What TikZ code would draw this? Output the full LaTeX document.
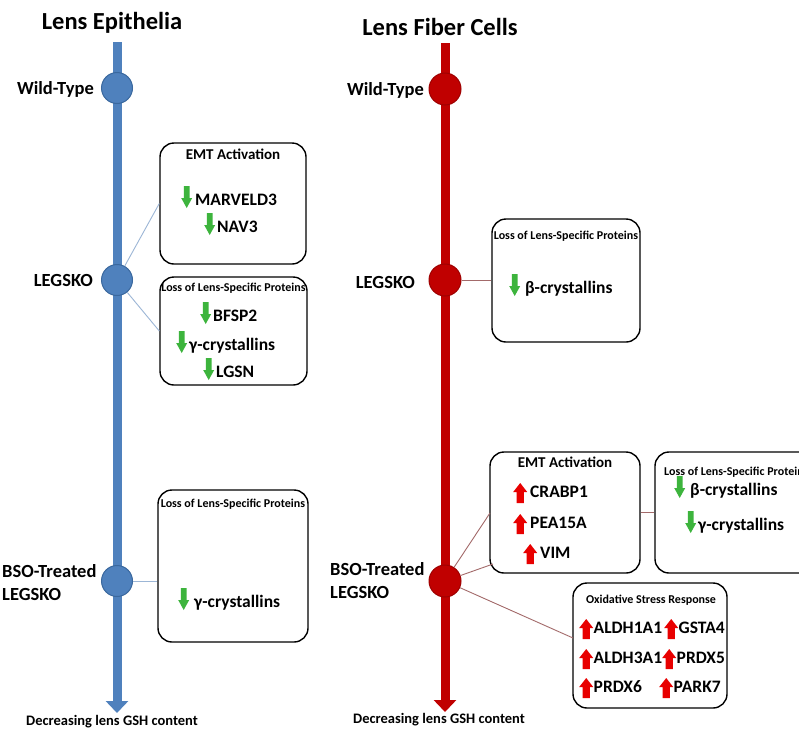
\documentclass[tikz,border=0pt]{standalone}
\usepackage{fontspec}
\setmainfont{Carlito}
\usetikzlibrary{arrows.meta,calc}
\definecolor{eblue}{HTML}{4F81BD}
\definecolor{eblueD}{HTML}{3A689E}
\definecolor{fred}{HTML}{C00000}
\definecolor{fredD}{HTML}{9E0000}
\definecolor{agreen}{HTML}{3DB43D}
\definecolor{ared}{HTML}{E80000}
\definecolor{lnblue}{HTML}{9CB6D6}
\definecolor{lnred}{HTML}{A36A6A}
\newcommand\dnarr{\tikz[baseline={(0,0)},x=1pt,y=1pt]{\fill[agreen] (-2.8,19)--(2.8,19)--(2.8,7)--(5.5,7)--(0,-3)--(-5.5,7)--(-2.8,7)--cycle;}}
\newcommand\uparr{\tikz[baseline={(0,0)},x=1pt,y=1pt]{\fill[ared] (-3.6,-6)--(3.6,-6)--(3.6,5)--(7,5)--(0,14)--(-7,5)--(-3.6,5)--cycle;}}
\begin{document}
\begin{tikzpicture}[x=1pt,y=-1pt,
  title/.style={font=\bfseries\fontsize{24.5}{28}\selectfont, inner sep=0pt},
  lab/.style={font=\bfseries\fontsize{18.5}{23}\selectfont, inner sep=0pt},
  gene/.style={font=\bfseries\fontsize{17.5}{20}\selectfont, inner sep=0pt, anchor=base west},
  hdr/.style={font=\bfseries\fontsize{15}{17}\selectfont, inner sep=0pt, anchor=base},
  shdr/.style={font=\bfseries\fontsize{12}{14}\selectfont, inner sep=0pt, anchor=base},
  note/.style={font=\bfseries\fontsize{14.5}{16}\selectfont, inner sep=0pt, anchor=base},
  box/.style={draw=black, line width=1.4pt, rounded corners=14pt, inner sep=0pt},
  bcirc/.style={circle, fill=eblue, draw=eblueD, line width=1pt, minimum size=31pt, inner sep=0pt},
  rcirc/.style={circle, fill=fred, draw=fredD, line width=1pt, minimum size=32pt, inner sep=0pt},
  axisB/.style={eblue, line width=9pt, -{Triangle[width=22pt,length=12pt]}},
  axisR/.style={fred, line width=9pt, -{Triangle[width=22pt,length=12pt]}},
  conL/.style={lnblue, line width=0.9pt},
  conR/.style={lnred, line width=0.9pt}]
\useasboundingbox (0,0) rectangle (799,731);
\clip (0,0) rectangle (799,731);
\fill[white] (0,0) rectangle (799,731);

% ---------- Left: Lens Epithelia ----------
\node[title, anchor=base] (t1) at (112,29) {Lens Epithelia};
\coordinate (a1t) at (117,42);
\coordinate (a1b) at (117,713);
\draw[axisB] (a1t) -- (a1b);
\node[bcirc] (c1) at (117,88) {};
\node[bcirc] (c2) at (117,280) {};
\node[bcirc] (c3) at (117,581) {};
\node[lab, anchor=base east] (l1) at (94,94) {Wild-Type};
\node[lab, anchor=base east] (l2) at (93,286) {LEGSKO};
\node[lab, anchor=base west, align=left] (l3) at (2,600) {BSO-Treated\\LEGSKO};
\node[note] (d1) at (112,725) {Decreasing lens GSH content};

\node[box, minimum width=146pt, minimum height=121pt] (emt1) at (233,203.5) {};
\node[box, minimum width=147pt, minimum height=108pt] (loss1) at (233.5,331) {};
\node[box, minimum width=150pt, minimum height=152pt] (bso1) at (233,566) {};
\draw[conL] (c2) -- (emt1.west);
\draw[conL] (c2) -- (loss1.west);
\draw[conL] (c3) -- (c3 -| bso1.west);

\node[hdr] (h1) at (233,159) {EMT Activation};
\node[gene] (g1) at (181,205) {\dnarr\hspace{3pt}MARVELD3};
\node[gene] (g2) at (204,232) {\dnarr\hspace{2pt}NAV3};
\node[shdr] (h2) at (233.5,291) {Loss of Lens-Specific Proteins};
\node[gene] (g3) at (200,321) {\dnarr\hspace{2pt}BFSP2};
\node[gene] (g4) at (176,350) {\dnarr\hspace{2pt}γ-crystallins};
\node[gene] (g5) at (203,377) {\dnarr\hspace{2pt}LGSN};
\node[shdr] (h3) at (233,507) {Loss of Lens-Specific Proteins};
\node[gene] (g6) at (178,607) {\dnarr\hspace{5pt}γ-crystallins};

% ---------- Right: Lens Fiber Cells ----------
\node[title, anchor=base] (t2) at (440,35) {Lens Fiber Cells};
\coordinate (a2t) at (445,43);
\coordinate (a2b) at (445,712);
\draw[axisR] (a2t) -- (a2b);
\node[rcirc] (r1) at (445,89) {};
\node[rcirc] (r2) at (445,280) {};
\node[rcirc] (r3) at (445,581) {};
\node[lab, anchor=base east] (m1) at (424,95) {Wild-Type};
\node[lab, anchor=base east] (m2) at (415,288) {LEGSKO};
\node[lab, anchor=base west, align=left] (m3) at (330,598) {BSO-Treated\\LEGSKO};
\node[note] (d2) at (439,723) {Decreasing lens GSH content};

\node[box, minimum width=148pt, minimum height=123pt] (leg2) at (566,280.5) {};
\node[box, minimum width=150pt, minimum height=121pt] (emt2) at (565,512.5) {};
\node[box, minimum width=165pt, minimum height=121pt] (loss2) at (737.5,512.5) {};
\node[box, minimum width=154pt, minimum height=125pt] (oxi) at (650,645.5) {};

\coordinate (e2a) at (490,513);
\coordinate (e2b) at (493,564);
\coordinate (oxa) at (573,638);
\draw[conR] (r2) -- (r2 -| leg2.west);
\draw[conR] (r3) -- (e2a);
\draw[conR] (r3) -- (e2b);
\draw[conR] (r3) -- (oxa);
\draw[conR] (emt2.east) -- (loss2.west);

\node[shdr] (h4) at (566,239) {Loss of Lens-Specific Proteins};
\node[gene] (g7) at (509,293) {\dnarr\hspace{5pt}β-crystallins};

\node[hdr] (h5) at (565,467) {EMT Activation};
\node[gene] (g8) at (513,497) {\uparr\hspace{3pt}CRABP1};
\node[gene] (g9) at (513,528) {\uparr\hspace{3pt}PEA15A};
\node[gene] (g10) at (523,558) {\uparr\hspace{3pt}VIM};

\node[shdr, anchor=base west] (h6) at (664,475) {Loss of Lens-Specific Proteins};
\node[gene] (g11) at (674,495) {\dnarr\hspace{5pt}β-crystallins};
\node[gene] (g12) at (685,530) {\dnarr\hspace{2pt}γ-crystallins};

\node[shdr] (h7) at (651,603) {Oxidative Stress Response};
\node[gene] (o1) at (579,633) {\uparr\hspace{0.5pt}ALDH1A1};
\node[gene] (o2) at (664,633) {\uparr\hspace{0.5pt}GSTA4};
\node[gene] (o3) at (579,663) {\uparr\hspace{0.5pt}ALDH3A1};
\node[gene] (o4) at (662,663) {\uparr\hspace{0.5pt}PRDX5};
\node[gene] (o5) at (579,692) {\uparr\hspace{0.5pt}PRDX6};
\node[gene] (o6) at (659,692) {\uparr\hspace{0.5pt}PARK7};
\end{tikzpicture}
\end{document}
